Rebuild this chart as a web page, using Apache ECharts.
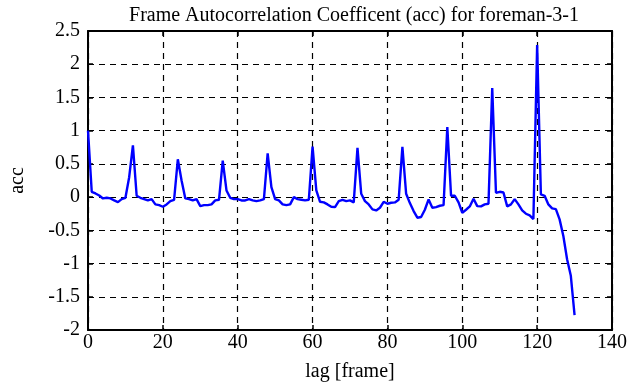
<!DOCTYPE html>
<html>
<head>
<meta charset="utf-8">
<script src="https://cdn.jsdelivr.net/npm/echarts@6/dist/echarts.min.js"></script>
<style>
html,body{margin:0;padding:0;background:#fff;}
#chart{width:630px;height:387px;}
</style>
</head>
<body>
<div id="chart"></div>
<script>
const titleText = 'Frame Autocorrelation Coefficent (acc) for foreman-3-1';
const xLabel = 'lag [frame]';
const yLabel = 'acc';
const xTicks = [0, 20, 40, 60, 80, 100, 120, 140];
const yTicks = [-2, -1.5, -1, -0.5, 0, 0.5, 1, 1.5, 2, 2.5];
const accValues = [
  1.0, 0.08, 0.055, 0.025, -0.02, -0.01, -0.02, -0.05, -0.075, -0.03,
  -0.01, 0.3, 0.78, 0.02, -0.01, -0.03, -0.05, -0.03, -0.11, -0.12,
  -0.145, -0.11, -0.06, -0.04, 0.57, 0.25, -0.02, -0.03, -0.05, -0.03,
  -0.135, -0.12, -0.12, -0.11, -0.05, -0.04, 0.55, 0.1, -0.01, -0.03,
  -0.03, -0.05, -0.05, -0.03, -0.05, -0.06, -0.05, -0.03, 0.66, 0.15,
  -0.03, -0.05, -0.11, -0.12, -0.11, 0.0, -0.03, -0.04, -0.05, -0.04,
  0.76, 0.1, -0.07, -0.08, -0.11, -0.145, -0.15, -0.06, -0.04, -0.06,
  -0.05, -0.08, 0.74, 0.05, -0.06, -0.11, -0.185, -0.2, -0.16, -0.07,
  -0.1, -0.085, -0.08, -0.04, 0.755, 0.05, -0.09, -0.21, -0.31, -0.3,
  -0.19, -0.035, -0.16, -0.15, -0.13, -0.12, 1.056, 0.02, 0.02, -0.08,
  -0.235, -0.19, -0.14, -0.025, -0.135, -0.14, -0.11, -0.1, 1.64, 0.065,
  0.08, 0.07, -0.14, -0.11, -0.03, -0.11, -0.2, -0.25, -0.275, -0.33,
  2.29, 0.04, 0.02, -0.11, -0.17, -0.18, -0.335, -0.585, -0.935, -1.185,
  -1.775
];
const lags = accValues.map((_, i) => i);
const seriesData = lags.map((l, i) => [l, accValues[i]]);

const fontFamily = '"Liberation Serif", "DejaVu Serif", serif';
const fontSize = 20;
const black = '#000';
const chart = echarts.init(document.getElementById('chart'), null, {renderer: 'canvas'});

function fmt(v) { return String(v); }

const baseAxisLine = {show: true, onZero: false, lineStyle: {color: black, width: 2}};
const tickStyle = {show: true, inside: true, length: 5, lineStyle: {color: black, width: 1.5}};
const gridLine = {show: true, lineStyle: {color: black, width: 1.2, type: [6, 5]}};

chart.setOption({
  animation: false,
  backgroundColor: '#fff',
  title: {
    text: titleText,
    left: 349, top: 1, textAlign: 'center',
    textStyle: {fontFamily, fontSize, fontWeight: 'normal', color: black}
  },
  grid: {left: 86, right: 17, top: 31, bottom: 56, containLabel: false},
  xAxis: [{
    type: 'value', min: xTicks[0], max: xTicks[xTicks.length - 1], interval: 20,
    position: 'bottom',
    name: xLabel, nameLocation: 'middle', nameGap: 32,
    nameTextStyle: {fontFamily, fontSize, color: black},
    axisLine: baseAxisLine, axisTick: tickStyle, splitLine: gridLine,
    axisLabel: {fontFamily, fontSize, color: black, margin: 3, formatter: fmt}
  }, {
    type: 'value', min: xTicks[0], max: xTicks[xTicks.length - 1], interval: 20,
    position: 'top',
    axisLine: baseAxisLine, axisTick: tickStyle, splitLine: {show: false},
    axisLabel: {show: false}
  }],
  yAxis: [{
    type: 'value', min: yTicks[0], max: yTicks[yTicks.length - 1], interval: 0.5,
    position: 'left',
    name: yLabel, nameLocation: 'middle', nameGap: 60, nameRotate: 90,
    nameTextStyle: {fontFamily, fontSize, color: black},
    axisLine: baseAxisLine, axisTick: tickStyle, splitLine: gridLine,
    axisLabel: {fontFamily, fontSize, color: black, margin: 8, formatter: fmt}
  }, {
    type: 'value', min: yTicks[0], max: yTicks[yTicks.length - 1], interval: 0.5,
    position: 'right',
    axisLine: baseAxisLine, axisTick: tickStyle, splitLine: {show: false},
    axisLabel: {show: false}
  }],
  series: [{
    type: 'line',
    data: seriesData,
    xAxisIndex: 0, yAxisIndex: 0,
    showSymbol: false, symbol: 'none',
    lineStyle: {color: '#0000ff', width: 2.4},
    z: 5
  }]
});
</script>
</body>
</html>
